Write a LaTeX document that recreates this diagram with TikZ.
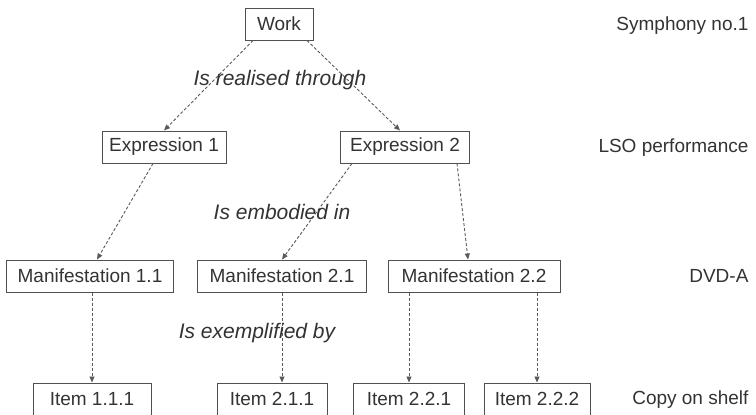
\documentclass[tikz,border=0pt]{standalone}
\usepackage{fontspec}
\setmainfont{Liberation Sans}
\usetikzlibrary{positioning,arrows.meta}
\definecolor{boxgray}{HTML}{505050}
\definecolor{txtgray}{HTML}{333333}
\definecolor{linegray}{HTML}{5A5A5A}

\begin{document}
\begin{tikzpicture}[x=1pt,y=-1pt,
	frbr/.style={draw=boxgray,line width=1pt,minimum height=32pt,inner xsep=0pt,text=txtgray,font=\fontsize{19}{22}\selectfont},
	rel/.style={text=txtgray,font=\fontsize{21}{24}\selectfont\itshape},
	level/.style={anchor=east,text=txtgray,font=\fontsize{19}{22}\selectfont},
	link/.style={draw=linegray,line width=0.9pt,dash pattern=on 3pt off 2pt,-{Triangle[length=6pt,width=5pt]}}]
		\useasboundingbox (0,0) rectangle (756,415);
		
		\node[frbr,minimum width=68pt] (work) at (279,24) {Work};
		\node[frbr,minimum width=124pt] (expr1) at (164,147) {Expression 1};
		\node[frbr,minimum width=129pt] (expr2) at (405,147) {Expression 2};
		\node[frbr,minimum width=167pt] (man11) at (90,276) {Manifestation 1.1};
		\node[frbr,minimum width=169pt] (man21) at (282,276) {Manifestation 2.1};
		\node[frbr,minimum width=172pt] (man22) at (474,276) {Manifestation 2.2};
		\node[frbr,minimum width=118pt] (item111) at (92,399) {Item 1.1.1};
		\node[frbr,minimum width=110pt] (item211) at (272,399) {Item 2.1.1};
		\node[frbr,minimum width=111pt] (item221) at (409,399) {Item 2.2.1};
		\node[frbr,minimum width=106pt] (item222) at (537,399) {Item 2.2.2};
		
		\node[level] (symph) at (752,26) {Symphony no.1};
		\node[level] (lso) at (752,148) {LSO performance};
		\node[level] (dvd) at (752,276) {DVD-A};
		\node[level] (copy) at (752,400) {Copy on shelf};
		
		\draw[link] ([xshift=-26pt]work.south) -- (expr1.north);
		\draw[link] ([xshift=28pt]work.south) -- ([xshift=-5pt]expr2.north);
		\draw[link] ([xshift=-11pt]expr1.south) -- ([xshift=7pt]man11.north);
		\draw[link] ([xshift=-53pt]expr2.south) -- (man21.north);
		\draw[link] ([xshift=52pt]expr2.south) -- ([xshift=-6pt]man22.north);
		\draw[link] (item111.north |- man11.south) -- (item111.north);
		\draw[link] (man21.south) -- (man21.south |- item211.north);
		\draw[link] (item221.north |- man22.south) -- (item221.north);
		\draw[link] (item222.north |- man22.south) -- (item222.north);
		
		\node[rel] (realised) at (280,80) {Is realised through};
		\node[rel] (embodied) at (282,212) {Is embodied in};
		\node[rel] (exemplified) at (257,333) {Is exemplified by};
	\end{tikzpicture}
\end{document}
